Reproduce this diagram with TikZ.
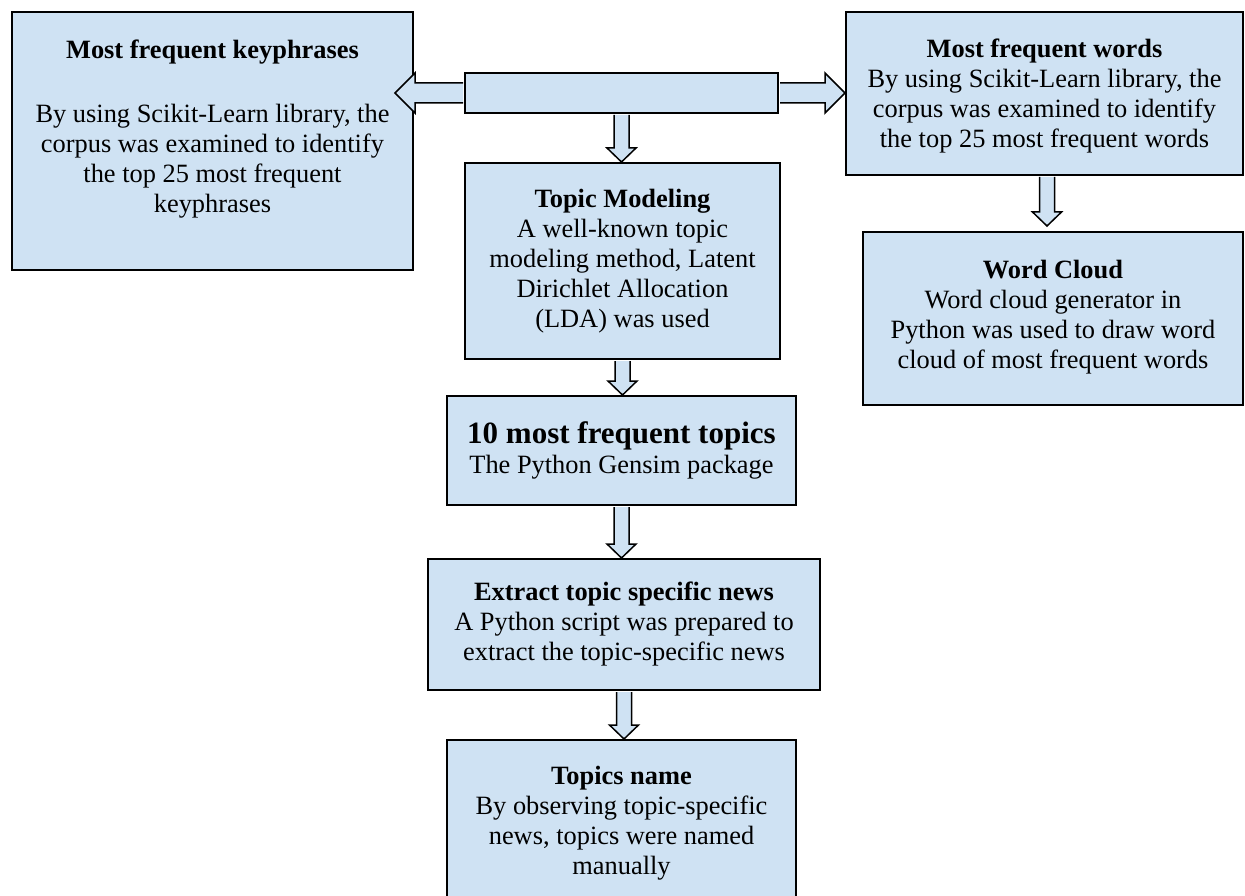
\documentclass[tikz,border=0pt]{standalone}
\usepackage{fontspec}
\setmainfont{Liberation Serif}
\usetikzlibrary{calc}
\definecolor{boxblue}{RGB}{207,226,243}
\newcommand{\varrow}[2]{%
  \filldraw[arrowbox] let \p1=(#1), \p2=(#2) in
    (\x1-7.5pt,\y1-1pt) -- (\x1-7.5pt,\y2+14pt) -- (\x1-14.5pt,\y2+14pt) --
    (\x1,\y2) -- (\x1+14.5pt,\y2+14pt) -- (\x1+7.5pt,\y2+14pt) -- (\x1+7.5pt,\y1-1pt);}
\begin{document}
\begin{tikzpicture}[x=1pt,y=-1pt,
  box/.style={draw=black, line width=2pt, fill=boxblue, rectangle, inner sep=0pt},
  txt/.style={align=center, font=\fontsize{26.4}{30}\selectfont, inner sep=0pt},
  arrowbox/.style={draw=black, line width=1.5pt, fill=boxblue, line join=miter}]
\useasboundingbox (0,0) rectangle (1245,896);
% boxes
\node[box, line width=2.6pt, minimum width=401, minimum height=258] (kp) at (212.5,141) {};
\node[box, minimum width=313, minimum height=40] (hub) at (621.5,93) {};
\node[box, minimum width=397, minimum height=163] (mfw) at (1044.5,93.5) {};
\node[box, minimum width=315, minimum height=196] (tm) at (622.5,261) {};
\node[box, minimum width=380, minimum height=173] (wc) at (1053,318.5) {};
\node[box, minimum width=349, minimum height=109] (topics) at (621.5,450.5) {};
\node[box, minimum width=392, minimum height=131] (extract) at (624,624.5) {};
\node[box, minimum width=349, minimum height=170] (name) at (621.5,825) {};
% texts
\node[txt] (kpt) at (212.5,52) {\textbf{Most frequent keyphrases}};
\node[txt] (kpb) at (212.5,161) {By using Scikit-Learn library, the\\corpus was examined to identify\\the top 25 most frequent\\keyphrases};
\node[txt] (mfwt) at (1044.5,96) {\textbf{Most frequent words}\\By using Scikit-Learn library, the\\corpus was examined to identify\\the top 25 most frequent words};
\node[txt] (tmt) at (622.5,261) {\textbf{Topic Modeling}\\A well-known topic\\modeling method, Latent\\Dirichlet Allocation\\(LDA) was used};
\node[txt] (wct) at (1053,317) {\textbf{Word Cloud}\\Word cloud generator in\\Python was used to draw word\\cloud of most frequent words};
\node[txt] (topicst) at (621.5,450.5) {{\fontsize{31}{34}\selectfont\bfseries 10 most frequent topics}\\The Python Gensim package};
\node[txt] (extractt) at (624,624.5) {\textbf{Extract topic specific news}\\A Python script was prepared to\\extract the topic-specific news};
\node[txt] (namet) at (621.5,823) {\textbf{Topics name}\\By observing topic-specific\\news, topics were named\\manually};
% connectors
\coordinate (lt) at (395,93);
\coordinate (a5) at (1047,226);
\filldraw[arrowbox] let \p1=(hub.west), \p2=(lt) in
  (\x1-1pt,\y1+10pt) -- (\x2+20pt,\y1+10pt) -- (\x2+20pt,\y1+20pt) -- (\x2,\y2) --
  (\x2+20pt,\y1-20pt) -- (\x2+20pt,\y1-10pt) -- (\x1-1pt,\y1-10pt);
\filldraw[arrowbox] let \p1=(hub.east), \p2=(hub.east -| mfw.west) in
  (\x1+1pt,\y1+10pt) -- (\x2-20pt,\y1+10pt) -- (\x2-20pt,\y1+20pt) -- (\x2,\y2) --
  (\x2-20pt,\y1-20pt) -- (\x2-20pt,\y1-10pt) -- (\x1+1pt,\y1-10pt);
\varrow{hub.south}{hub.south |- tm.north}
\varrow{tm.south}{tm.south |- topics.north}
\varrow{topics.south}{topics.south |- extract.north}
\varrow{extract.south}{extract.south |- name.north}
\varrow{mfw.south -| a5}{a5}
\end{tikzpicture}
\end{document}
